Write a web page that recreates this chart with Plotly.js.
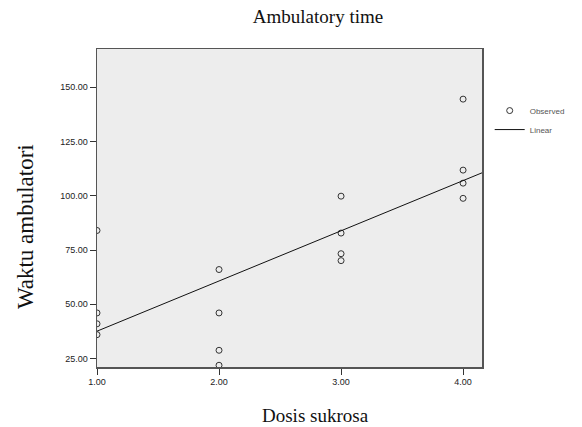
<!DOCTYPE html>
<html>
<head>
<meta charset="utf-8">
<script src="https://cdn.plot.ly/plotly-3.0.1.min.js"></script>
<style>html,body{margin:0;padding:0;background:#fff;}#chart{width:582px;height:427px;}</style>
</head>
<body>
<div id="chart"></div>
<script>
const dose = [1, 1, 1, 1, 2, 2, 2, 2, 3, 3, 3, 3, 4, 4, 4, 4];
const ambulatoryTime = [84, 46, 41, 36, 66, 46, 28.8, 21.9, 99.8, 82.8, 73.3, 70.1, 144.5, 111.8, 105.8, 98.8];
const xTickVals = [1, 2, 3, 4];
const xTickText = ["1.00", "2.00", "3.00", "4.00"];
const yTickVals = [25, 50, 75, 100, 125, 150];
const yTickText = ["25.00", "50.00", "75.00", "100.00", "125.00", "150.00"];
const xRange = [1, 4.155];
const yRange = [21.1, 167.6];

// least-squares linear fit
const n = dose.length;
const mx = dose.reduce((a, b) => a + b, 0) / n;
const my = ambulatoryTime.reduce((a, b) => a + b, 0) / n;
let sxy = 0, sxx = 0;
for (let i = 0; i < n; i++) { sxy += (dose[i] - mx) * (ambulatoryTime[i] - my); sxx += (dose[i] - mx) ** 2; }
const slope = sxy / sxx, intercept = my - slope * mx;
const fitX = xRange.slice();
const fitY = fitX.map(x => intercept + slope * x);

const serif = "Liberation Serif, Times New Roman, serif";
const sans = "Liberation Sans, Arial, sans-serif";

const traces = [
  {x: dose, y: ambulatoryTime, type: "scatter", mode: "markers", name: "Observed",
   marker: {symbol: "circle-open", size: 6, color: "#333", line: {width: 1, color: "#333"}}},
  {x: fitX, y: fitY, type: "scatter", mode: "lines", name: "Linear",
   line: {color: "#111", width: 1}}
];

const layout = {
  width: 582, height: 427,
  margin: {l: 97, r: 98, t: 49, b: 59.5, pad: 0},
  paper_bgcolor: "#fff", plot_bgcolor: "#ededed",
  title: {text: "Ambulatory time", font: {family: serif, size: 19, color: "#111"},
          x: 318 / 582, xref: "container", xanchor: "center", y: 1 - 16 / 427, yref: "container", yanchor: "middle"},
  xaxis: {range: xRange, tickvals: xTickVals, ticktext: xTickText, showgrid: false, zeroline: false,
          showline: true, mirror: true, linecolor: "#555", linewidth: 1.5,
          ticks: "outside", ticklen: 6, tickcolor: "#333", tickwidth: 1,
          tickfont: {family: sans, size: 9, color: "#222"}},
  yaxis: {range: yRange, tickvals: yTickVals, ticktext: yTickText, showgrid: false, zeroline: false,
          showline: true, mirror: true, linecolor: "#555", linewidth: 1.5,
          ticks: "outside", ticklen: 6, tickcolor: "#333", tickwidth: 1,
          tickfont: {family: sans, size: 9, color: "#222"}},
  showlegend: true,
  legend: {x: 1.02, y: 0.852, xanchor: "left", yanchor: "top", font: {family: sans, size: 8, color: "#555"},
           bgcolor: "rgba(0,0,0,0)", itemwidth: 30, tracegroupgap: 0},
  annotations: [
    {text: "Dosis sukrosa", xref: "paper", yref: "paper", x: (317 - 97) / 387, y: -(416 - 367.5) / 318.5,
     xanchor: "center", yanchor: "middle", showarrow: false, font: {family: serif, size: 19, color: "#111"}},
    {text: "Waktu ambulatori", xref: "paper", yref: "paper", x: -(97 - 25) / 387, y: (367.5 - 227) / 318.5,
     xanchor: "center", yanchor: "middle", textangle: -90, showarrow: false, font: {family: serif, size: 23, color: "#111"}}
  ]
};

Plotly.newPlot("chart", traces, layout, {displayModeBar: false, staticPlot: true});
</script>
</body>
</html>
